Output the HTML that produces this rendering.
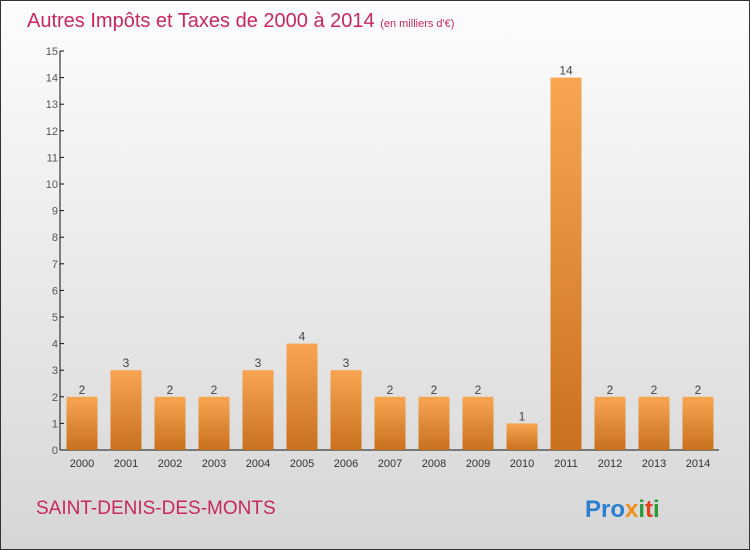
<!DOCTYPE html>
<html><head><meta charset="utf-8"><style>
body{margin:0}
#c{position:relative;width:748px;height:548px;border:1px solid #333;background:linear-gradient(#fdfdfd,#d6d6d6);font-family:"Liberation Sans",sans-serif;overflow:hidden}
</style></head><body>
<div id="c">
<svg id="s" width="748" height="548" style="position:absolute;left:0;top:0">
<defs><linearGradient id="g" x1="0" y1="0" x2="0" y2="1"><stop offset="0" stop-color="#f8a552"/><stop offset="1" stop-color="#c8711f"/></linearGradient></defs>
<text x="26" y="26" font-size="20" fill="#c8285c">Autres Impôts et Taxes de 2000 à 2014 <tspan font-size="11">(en milliers d'€)</tspan></text>
<text x="35" y="513" font-size="19" fill="#c8285c">SAINT-DENIS-DES-MONTS</text>
<g font-size="24" font-weight="bold">
<text x="584" y="516"><tspan fill="#2a7fd0">Pro</tspan><tspan fill="#f0901a">x</tspan><tspan fill="#2a9a3a">i</tspan><tspan fill="#e04020">t</tspan><tspan fill="#2a9a3a">i</tspan></text></g>
<g id="ax"></g><g id="bars"></g>
</svg></div>
<script>
const years=["2000","2001","2002","2003","2004","2005","2006","2007","2008","2009","2010","2011","2012","2013","2014"];
const values=[2,3,2,2,3,4,3,2,2,2,1,14,2,2,2];
const yTicks=[0,1,2,3,4,5,6,7,8,9,10,11,12,13,14,15];
const NS="http://www.w3.org/2000/svg";
const y0=449,ppu=26.6,x0=81,step=44,bw=31,axX=59;
const yS=v=>y0-v*ppu, xS=i=>x0+i*step;
function mk(t,a,p){const e=document.createElementNS(NS,t);for(const k in a)e.setAttribute(k,a[k]);p.appendChild(e);return e;}
const ax=document.getElementById('ax'),bars=document.getElementById('bars');
let l=mk('line',{x1:axX,y1:yS(15),x2:axX,y2:y0,stroke:'#111'},ax);


l=mk('line',{x1:axX,y1:y0,x2:718,y2:y0,stroke:'#111'},ax);


yTicks.forEach(v=>{
 mk('line',{x1:axX,y1:yS(v),x2:axX+4,y2:yS(v),stroke:'#111'},ax);
 const t=mk('text',{x:axX-2,y:yS(v)+4,'font-size':11,fill:'#555','text-anchor':'end'},ax);
 t.textContent=v;
 
 
});
years.forEach((y,i)=>{
 const v=values[i],x=xS(i);
 const r=mk('rect',{x:x-bw/2,y:yS(v),width:bw,height:y0-yS(v),fill:'url(#g)'},bars);
 
 
 const t=mk('text',{x:x,y:yS(v)-3,'font-size':12,fill:'#444','text-anchor':'middle'},bars);
 t.textContent=v;
 
 
 const xl=mk('text',{x:x,y:466,'font-size':11,fill:'#333','text-anchor':'middle'},ax);
 xl.textContent=y;
 
 
});
</script>
</body></html>
